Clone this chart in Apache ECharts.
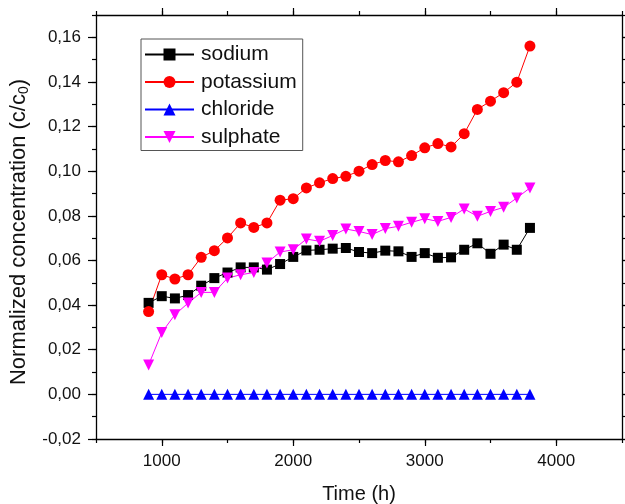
<!DOCTYPE html>
<html><head><meta charset="utf-8">
<script src="https://cdn.jsdelivr.net/npm/echarts@6/dist/echarts.min.js"></script>
<style>html,body{margin:0;padding:0;background:#fff}#c{width:625px;height:504px}</style>
</head><body><div id="c"></div>
<script>
const times = [900,1000,1100,1200,1300,1400,1500,1600,1700,1800,1900,2000,2100,2200,2300,2400,2500,2600,2700,2800,2900,3000,3100,3200,3300,3400,3500,3600,3700,3800];
const sodium = [0.041,0.044,0.043,0.0445,0.0487,0.0521,0.0546,0.0569,0.0569,0.0559,0.0584,0.0616,0.0645,0.0648,0.0653,0.0656,0.0638,0.0633,0.0644,0.0641,0.0616,0.0633,0.0612,0.0614,0.0648,0.0677,0.0630,0.0671,0.0648,0.0746];
const potassium = [0.0371,0.0536,0.0517,0.0536,0.0614,0.0644,0.0701,0.0768,0.0748,0.0768,0.0870,0.0877,0.0925,0.0948,0.0967,0.0977,0.1000,0.1030,0.1048,0.1042,0.1070,0.1105,0.1124,0.1109,0.1168,0.1277,0.1314,0.1352,0.1399,0.1561];
const chloride = [0,0,0,0,0,0,0,0,0,0,0,0,0,0,0,0,0,0,0,0,0,0,0,0,0,0,0,0,0,0];
const sulphate = [0.0132,0.0277,0.0357,0.0409,0.0457,0.0457,0.0521,0.0536,0.0546,0.0589,0.0638,0.0648,0.0696,0.0686,0.0712,0.0741,0.0730,0.0716,0.0743,0.0753,0.0771,0.0787,0.0775,0.0793,0.0831,0.0798,0.0820,0.0838,0.0880,0.0925];
const xTicks = [1000,2000,3000,4000];
const yTicks = [-0.02,0,0.02,0.04,0.06,0.08,0.10,0.12,0.14,0.16];

const FONT = 'Liberation Sans, Arial, sans-serif';
const pair = (ys) => times.map((t,i)=>[t, ys[i]]);
const axLine = {show:true, onZero:false, lineStyle:{color:'#000', width:1.3}};
const noLine = {show:false, onZero:false};

function xAx(pos, main) {
  return {
    type:'value', position:pos, min:500, max:4500, interval:500,
    axisLine: main ? axLine : noLine,
    splitLine:{show:false},
    axisTick: main ? {show:true, length:4, lineStyle:{color:'#000', width:1.2}}
                   : {show:true, length:7, customValues:xTicks, lineStyle:{color:'#000', width:1.2}},
    axisLabel: (main && pos==='bottom') ? {show:true, customValues:xTicks, fontSize:17, fontFamily:FONT, color:'#111', margin:14,
        formatter:(v)=>String(Math.round(v))} : {show:false},
    name: (main && pos==='bottom') ? 'Time (h)' : '',
    nameLocation:'middle', nameGap:45,
    nameTextStyle:{fontSize:20, fontFamily:FONT, color:'#111'}
  };
}
function yAx(pos, main) {
  return {
    type:'value', position:pos, min:-0.02, max:0.17, interval:0.01,
    axisLine: main ? axLine : noLine,
    splitLine:{show:false},
    axisTick: main ? {show:true, length:4, lineStyle:{color:'#000', width:1.2}}
                   : {show:true, length:8, customValues:yTicks, lineStyle:{color:'#000', width:1.2}},
    axisLabel: (main && pos==='left') ? {show:true, customValues:yTicks, fontSize:17, fontFamily:FONT, color:'#111', margin:15,
        formatter:(v)=>v.toFixed(2).replace('.',',')} : {show:false},
    name: (main && pos==='left') ? 'Normalized concentration (c/c{sub|0})' : '',
    nameLocation:'middle', nameGap:63,
    nameTextStyle:{fontSize:22, fontFamily:FONT, color:'#111', padding:[0,10,0,0],
      rich:{sub:{fontSize:14, fontFamily:FONT, color:'#111', padding:[10,0,0,0]}}}
  };
}

const chart = echarts.init(document.getElementById('c'), null, {renderer:'canvas'});
const mk = (name, data, color, symbol, size, rotate) => ({
  name, type:'line', data:pair(data), xAxisIndex:0, yAxisIndex:0,
  symbol, symbolSize:size, symbolRotate:rotate||0,
  lineStyle:{color, width:1}, itemStyle:{color, borderWidth:0},
  showAllSymbol:true, animation:false
});
chart.setOption({
  animation:false,
  backgroundColor:'#fff',
  grid:{left:96, right:3, top:15, bottom:65, containLabel:false, outerBoundsMode:'none'},
  legend:{
    orient:'vertical', left:141, top:39,
    padding:[5,6,3,3], itemGap:6.5, itemWidth:49, itemHeight:15,
    borderColor:'#555', borderWidth:1,
    textStyle:{fontSize:21, fontFamily:FONT, color:'#111', padding:[0,0,0,2]},
    data:['sodium','potassium','chloride','sulphate']
  },
  xAxis:[xAx('bottom',true), xAx('bottom',false), xAx('top',true), xAx('top',false)],
  yAxis:[yAx('left',true), yAx('left',false), yAx('right',true), yAx('right',false)],
  series:[
    mk('sodium', sodium, '#000000', 'rect', 10),
    mk('potassium', potassium, '#ff0000', 'circle', 11),
    mk('chloride', chloride, '#0000ff', 'triangle', 11),
    mk('sulphate', sulphate, '#ff00ff', 'triangle', 11, 180)
  ]
});
</script></body></html>
